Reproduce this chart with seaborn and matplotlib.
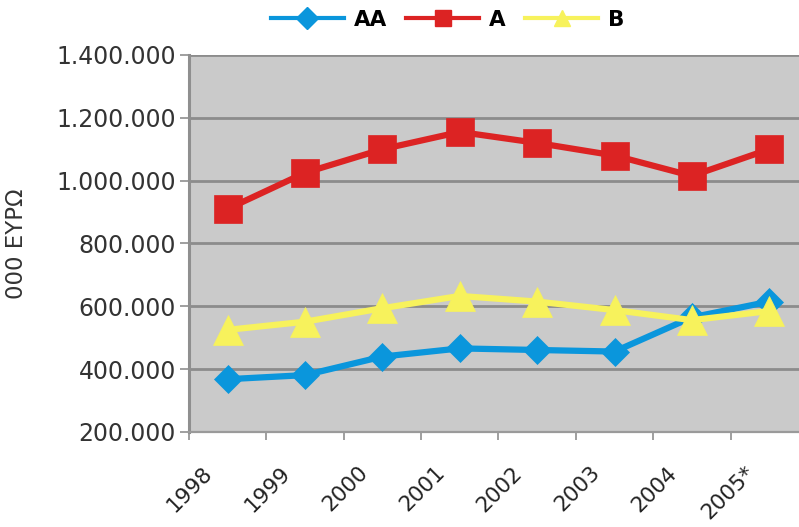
import matplotlib.pyplot as plt
import pandas as pd
import seaborn as sns
from matplotlib.lines import Line2D
from matplotlib.ticker import FuncFormatter
from matplotlib.transforms import ScaledTranslation

# values (000 EYPΩ)
years = ['1998', '1999', '2000', '2001', '2002', '2003', '2004', '2005*']
aa = [368000, 381000, 440000, 466000, 461000, 456000, 565000, 615000]
a = [910000, 1025000, 1100000, 1155000, 1120000, 1080000, 1015000, 1100000]
b = [525000, 551000, 594000, 633000, 615000, 588000, 556000, 585000]

series_names = ['AA', 'A', 'B']
colors = {'AA': '#0a96dc', 'A': '#dc2323', 'B': '#f7f25c'}
markers = {'AA': 'D', 'A': 's', 'B': '^'}
msize = {'AA': 14, 'A': 19.5, 'B': 21}

df = pd.DataFrame({
    'year': years * 3,
    'value': aa + a + b,
    'series': ['AA'] * len(aa) + ['A'] * len(a) + ['B'] * len(b),
})

fig = plt.figure(figsize=(7.99, 5.27), dpi=100)
ax = fig.add_axes([0.2365, 0.1803, 0.7747, 0.7154])
ax.set_facecolor('#cacaca')

sns.lineplot(data=df, x='year', y='value', hue='series', style='series',
             hue_order=series_names, style_order=series_names,
             markers=markers, dashes=False, palette=colors, linewidth=4.5,
             sort=False, legend=False, ax=ax)

for line, name in zip(ax.lines, series_names):
    line.set_markersize(msize[name])
    line.set_markeredgecolor(colors[name])
    line.set_markerfacecolor(colors[name])
    line.set_markeredgewidth(0.5)

# axes limits / grid
ax.set_ylim(200000, 1400000)
ax.set_yticks(range(200000, 1400001, 200000))
ax.set_xlim(-0.5, len(years) - 0.5)
ax.yaxis.set_major_formatter(FuncFormatter(lambda v, p: f'{v:,.0f}'.replace(',', '.')))
ax.grid(axis='y', color='#8c8c8c', linewidth=2)
ax.set_axisbelow(True)

for side in ['top', 'right']:
    ax.spines[side].set_visible(False)
ax.spines['left'].set_color('#8f8f8f')
ax.spines['left'].set_linewidth(2.2)
ax.spines['bottom'].set_color('#9a9a9a')
ax.spines['bottom'].set_linewidth(1.6)

# x ticks: marks on category borders, labels on the centers
ax.set_xticks(range(len(years)))
ax.set_xticklabels(years)
ax.set_xticks([i - 0.5 for i in range(len(years) + 1)], minor=True)
ax.tick_params(axis='x', which='major', length=0, pad=22, labelsize=15.5, labelcolor='#222222')
ax.tick_params(axis='x', which='minor', length=6, width=1.2, color='#8f8f8f')
ax.tick_params(axis='y', length=6.5, width=1.2, color='#8f8f8f', pad=3,
               labelsize=17, labelcolor='#333333')
shift = ScaledTranslation(-18 / 72, 0, fig.dpi_scale_trans)
for lbl in ax.get_xticklabels():
    lbl.set_rotation(45)
    lbl.set_ha('right')
    lbl.set_va('top')
    lbl.set_rotation_mode('anchor')
    lbl.set_transform(lbl.get_transform() + shift)

ax.set_xlabel('')
ax.set_ylabel('000 ΕΥΡΩ', fontsize=16.5, color='#333333')
ax.yaxis.set_label_coords(-0.26, 0.5)

# legend on top
handles = [Line2D([], [], color=colors[n], marker=markers[n], linewidth=3,
                  markersize=11, markeredgecolor=colors[n]) for n in series_names]
fig.legend(handles, series_names, loc='center', bbox_to_anchor=(0.56, 0.962),
           ncol=3, frameon=False, handlelength=3.4, columnspacing=0.9,
           handletextpad=0.45, prop={'weight': 'bold', 'size': 15.5})

fig.savefig('out.png', dpi=100)
